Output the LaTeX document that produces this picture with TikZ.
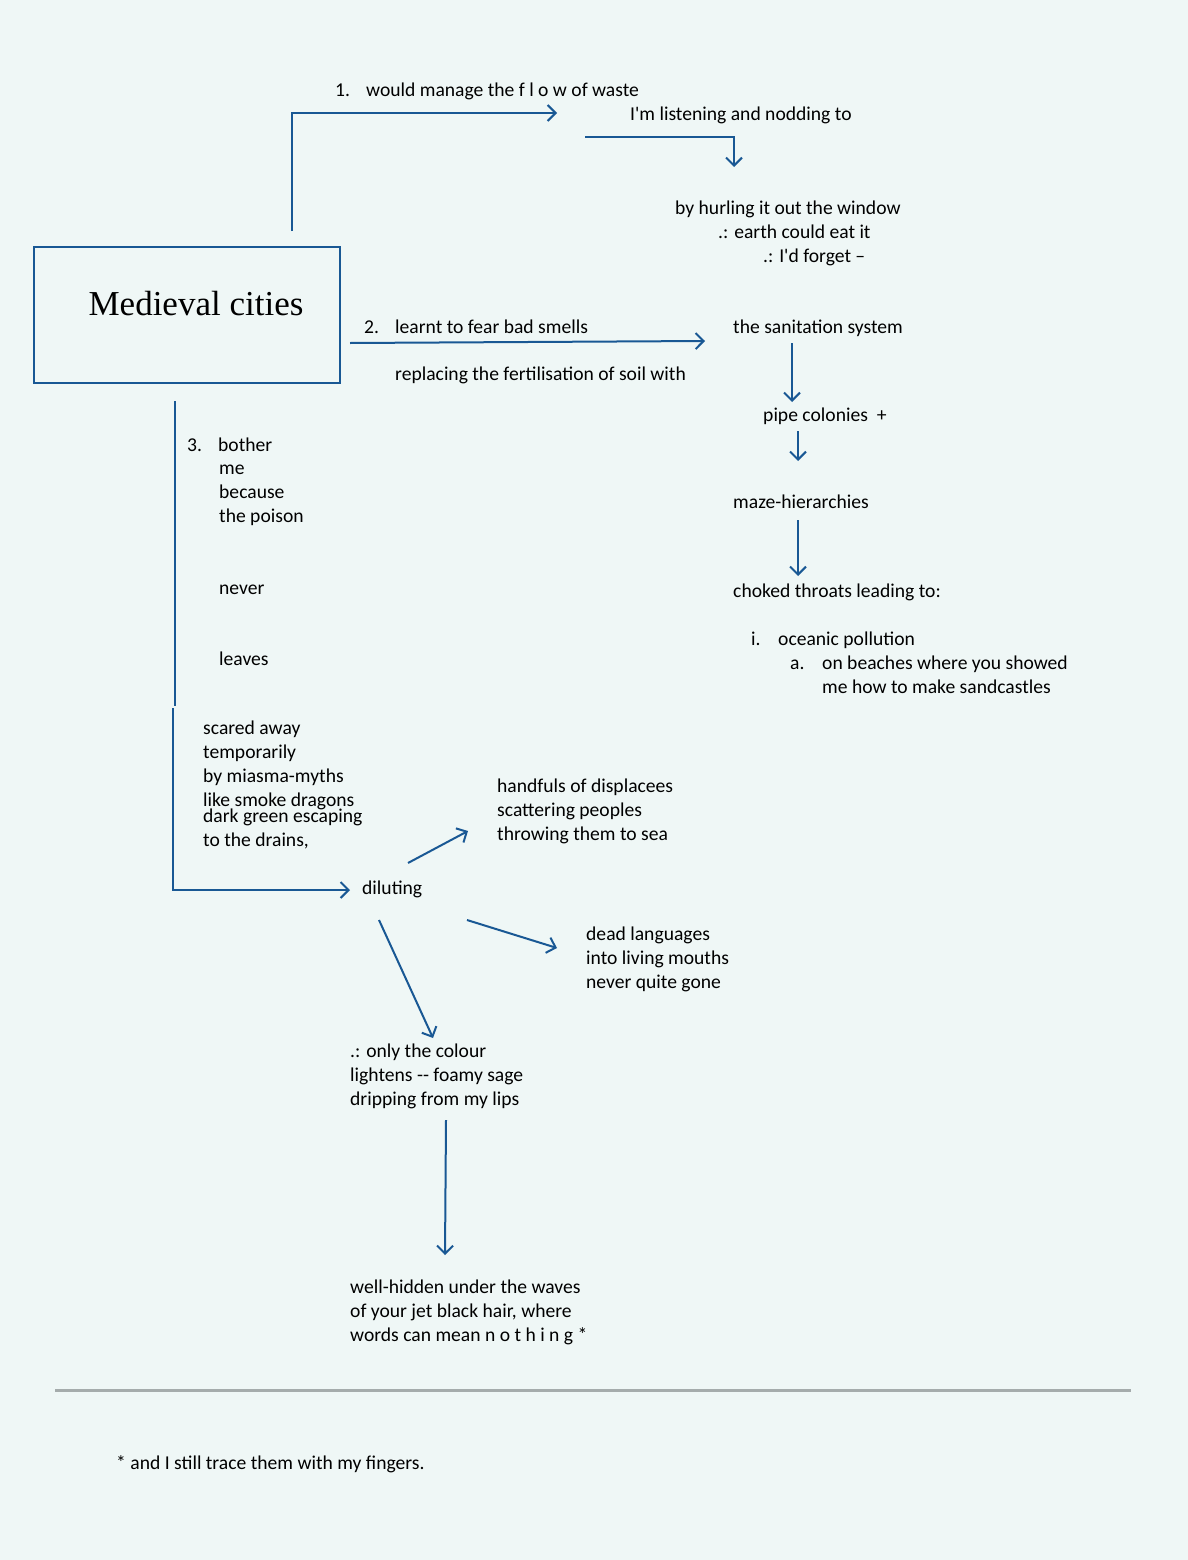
\documentclass[tikz,border=0pt]{standalone}
\usepackage{fontspec}
\setmainfont{Carlito}
\newfontfamily\titlefont{Liberation Serif}
\usetikzlibrary{arrows.meta}
\definecolor{paper}{RGB}{239,247,246}
\definecolor{ink}{RGB}{25,88,148}
\definecolor{rulegrey}{RGB}{165,172,172}
\tikzset{
  verse/.style={anchor=base west,inner sep=0pt,align=left,font=\fontsize{19.6}{24}\selectfont},
  flow/.style={draw=ink,line width=2pt,-{Straight Barb[length=8pt,width=16pt,line width=2pt]}},
  wire/.style={draw=ink,line width=2pt},
}
\newcommand{\itm}[1]{\makebox[31pt][l]{#1}}
\newcommand{\ap}{\textquotesingle}
\begin{document}
\begin{tikzpicture}[x=1pt,y=-1pt]
\fill[paper] (0,0) rectangle (1188,1560);
\useasboundingbox (0,0) rectangle (1188,1560);
% the box
\node[draw=ink,line width=2pt,anchor=north west,minimum width=306pt,minimum height=136pt] (city) at (33,246) {};
\node[font=\titlefont\fontsize{35}{40}\selectfont,inner sep=0pt] (title) at ([xshift=9pt,yshift=11pt]city.center) {Medieval cities};
% branch 1
\node[verse] (flow) at (335,97) {\itm{1.}would manage the f l o w of waste};
\node[verse] (listen) at (630,121) {I\ap m listening and nodding to};
\node[verse] (hurl) at (675,214) {by hurling it out the window};
\node[verse] (earth) at (718,238) {.: earth could eat it};
\node[verse] (forget) at (763,262) {.: I\ap d forget --};
% branch 2
\node[verse] (fear) at (364,333) {\itm{2.}learnt to fear bad smells};
\node[verse] (replace) at (395,380) {replacing the fertilisation of soil with};
\node[verse] (sanit) at (733,333) {the sanitation system};
\node[verse] (pipes) at (763,421) {pipe colonies\ \ +};
\node[verse] (maze) at (733,508) {maze-hierarchies};
\node[verse] (choked) at (733,597) {choked throats leading to:};
\node[verse] (ocean) at (751,645) {\makebox[27pt][l]{i.}oceanic pollution};
\node[verse] (beach) at (790,669) {\makebox[32pt][l]{a.}on beaches where you showed};
\node[verse] (sand) at (822,693) {me how to make sandcastles};
% branch 3 (multi-line nodes sit on their last line)
\node[verse] (bother) at (187,451) {\itm{3.}bother};
\node[verse] (because) at (219,522) {me\\because\\the poison};
\node[verse] (never) at (219,594) {never};
\node[verse] (leaves) at (219,665) {leaves};
\node[verse] (scared) at (203,806) {scared away\\temporarily\\by miasma-myths\\like smoke dragons};
\node[verse] (drains) at (203,846) {dark green escaping\\to the drains,};
\node[verse] (dilute) at (362,894) {diluting};
\node[verse] (hands) at (497,840) {handfuls of displacees\\scattering peoples\\throwing them to sea};
\node[verse] (dead) at (586,988) {dead languages\\into living mouths\\never quite gone};
\node[verse] (colour) at (350,1105) {.: only the colour\\lightens -{}- foamy sage\\dripping from my lips};
\node[verse] (waves) at (350,1341) {well-hidden under the waves\\of your jet black hair, where\\words can mean n o t h i n g *};
\node[verse] (note) at (116,1469) {* and I still trace them with my fingers.};
% connector ends
\path (292,231) coordinate (a0) (292,113) coordinate (a1) (557,113) coordinate (a2)
  (585,137) coordinate (b0) (734,137) coordinate (b1) (734,167) coordinate (b2)
  (350,343) coordinate (c0) (705,341) coordinate (c1)
  (792,343) coordinate (d0) (792,402) coordinate (d1)
  (798,431) coordinate (e0) (798,461) coordinate (e1)
  (798,520) coordinate (f0) (798,576) coordinate (f1)
  (175,401) coordinate (g0) (175,706) coordinate (g1) (173,708) coordinate (g2)
  (173,890) coordinate (g3) (350,890) coordinate (g4)
  (408,863) coordinate (h0) (468,831) coordinate (h1)
  (467,920) coordinate (i0) (557,948) coordinate (i1)
  (379,920) coordinate (j0) (433,1038) coordinate (j1)
  (446,1120) coordinate (k0) (445,1255) coordinate (k1)
  (55,1390) coordinate (r0) (1131,1390) coordinate (r1);
\draw[flow] (a0)--(a1)--(a2);
\draw[flow] (b0)--(b1)--(b2);
\draw[flow] (c0)--(c1);
\draw[flow] (d0)--(d1);
\draw[flow] (e0)--(e1);
\draw[flow] (f0)--(f1);
\draw[wire] (g0)--(g1);
\draw[flow] (g2)--(g3)--(g4);
\draw[flow] (h0)--(h1);
\draw[flow] (i0)--(i1);
\draw[flow] (j0)--(j1);
\draw[flow] (k0)--(k1);
\draw[rulegrey,line width=3pt] (r0)--(r1);
\end{tikzpicture}
\end{document}
